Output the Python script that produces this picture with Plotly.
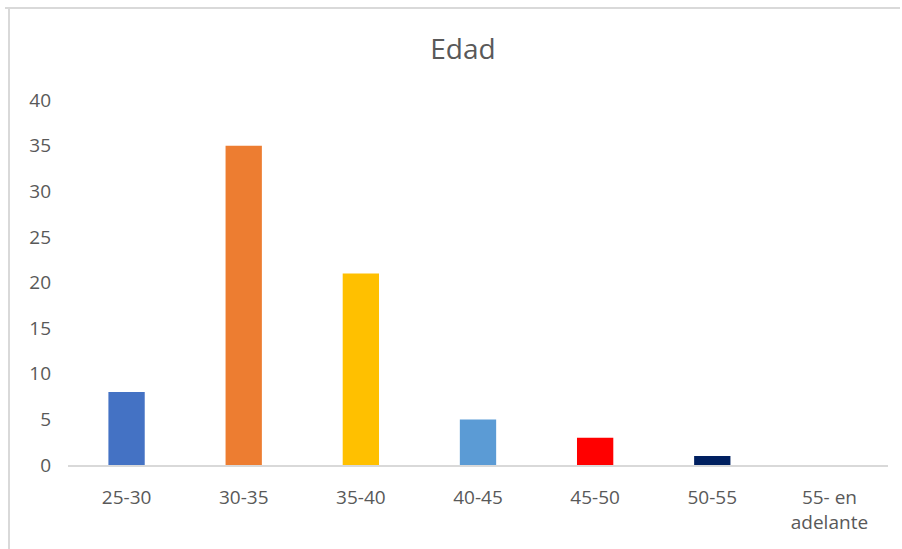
import plotly.graph_objects as go

# Age distribution
categorias = ["25-30", "30-35", "35-40", "40-45", "45-50", "50-55", "55- en<br>adelante"]
valores = [8, 35, 21, 5, 3, 1, 0]
colores = ["#4472C4", "#ED7D31", "#FFC000", "#5B9BD5", "#FF0000", "#002060", "#70AD47"]
y_ticks = [0, 5, 10, 15, 20, 25, 30, 35, 40]

W, H = 902, 549
L, R, T, B = 68, 14, 100, 84
pw, ph = W - L - R, H - T - B

def px_x(p):
    return (p - L) / pw

def px_y(p):
    return (H - B - p) / ph

fig = go.Figure(
    go.Bar(
        x=categorias,
        y=valores,
        marker=dict(color=colores, line=dict(width=0)),
        hoverinfo="x+y",
    )
)

gray = "#595959"
font = "Open Sans, Liberation Sans, sans-serif"

fig.update_layout(
    width=W,
    height=H,
    margin=dict(l=L, r=R, t=T, b=B, autoexpand=False),
    paper_bgcolor="white",
    plot_bgcolor="white",
    bargap=0.69,
    showlegend=False,
    title=dict(
        text="Edad",
        x=463 / W,
        xanchor="center",
        y=1 - 49 / H,
        yanchor="middle",
        font=dict(family=font, size=28, color=gray),
    ),
    xaxis=dict(
        showline=True,
        linecolor="#D9D9D9",
        linewidth=2,
        showgrid=False,
        ticks="",
        ticklabelstandoff=14,
        tickfont=dict(family=font, size=19, color=gray),
    ),
    yaxis=dict(
        range=[0, 40],
        tickvals=y_ticks,
        showline=False,
        showgrid=False,
        zeroline=False,
        ticks="",
        ticklabelstandoff=16,
        tickfont=dict(family=font, size=19, color=gray),
    ),
    shapes=[
        dict(type="line", xref="paper", yref="paper",
             x0=px_x(5), x1=px_x(900), y0=px_y(8), y1=px_y(8),
             line=dict(color="#D9D9D9", width=2)),
        dict(type="line", xref="paper", yref="paper",
             x0=px_x(9), x1=px_x(9), y0=px_y(8), y1=px_y(H + 2),
             line=dict(color="#D9D9D9", width=2)),
    ],
)

fig.write_html("out.html")
